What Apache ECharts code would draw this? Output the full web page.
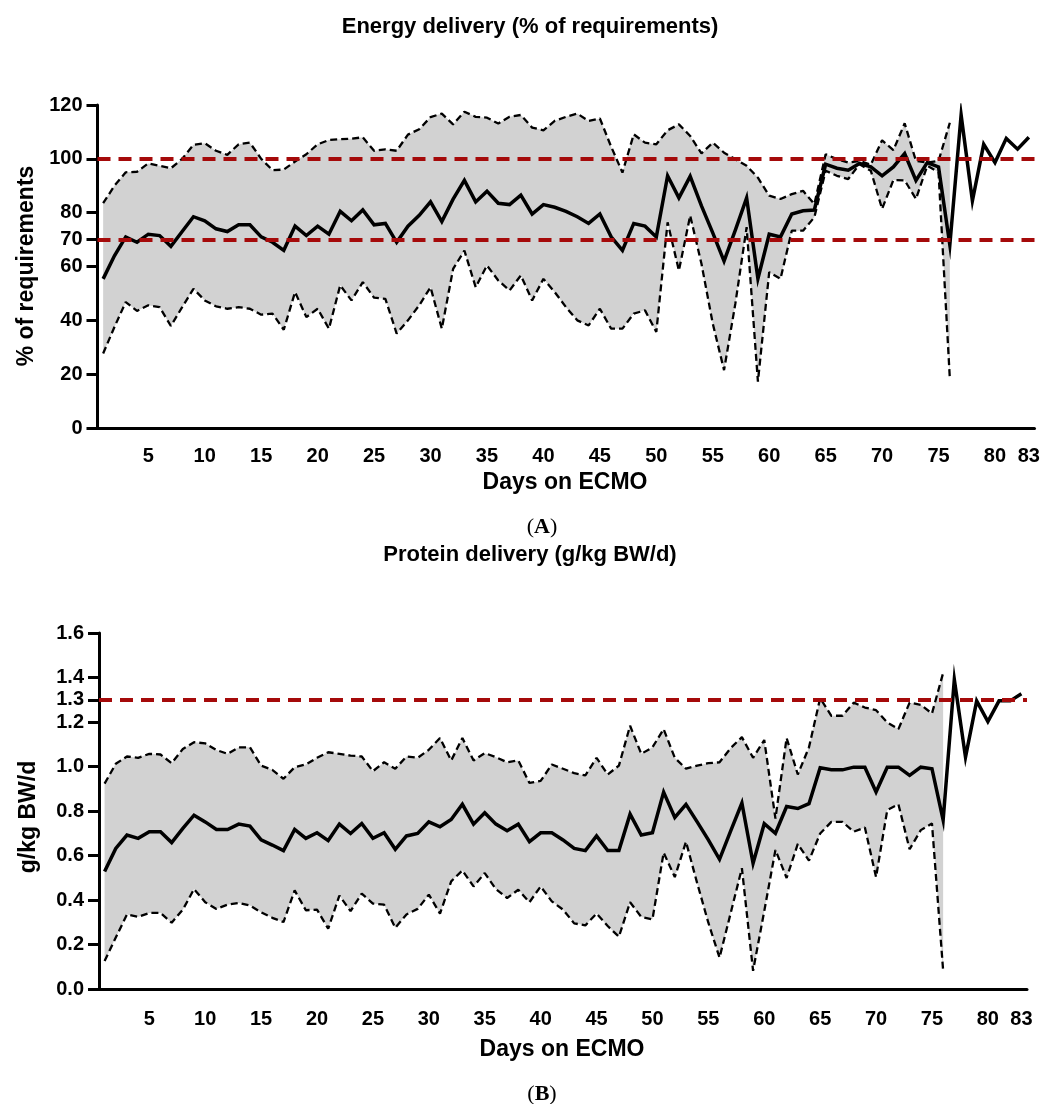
<!DOCTYPE html>
<html>
<head>
<meta charset="utf-8">
<script src="https://cdn.jsdelivr.net/npm/echarts@6/dist/echarts.min.js"></script>
<style>
  html, body { margin: 0; padding: 0; background: #fff; }
  #chart { width: 1053px; height: 1104px; }
</style>
</head>
<body>
<div id="chart"></div>
<script>
// days on ECMO
const days = [];
for (let d = 1; d <= 83; d++) days.push(String(d));
const shownDays = [5, 10, 15, 20, 25, 30, 35, 40, 45, 50, 55, 60, 65, 70, 75, 80, 83];

// (A) energy delivery, % of requirements
const energyMean = [55.4, 64, 71, 69, 72, 71.5, 67.5, 73, 78.5, 77,
  74, 73, 75.5, 75.5, 71, 69, 66, 75, 71.5, 75,
  72, 80.5, 77, 81, 75.5, 76, 69, 75, 79, 84,
  76.7, 85, 92, 84, 88, 83.5, 83, 86.5, 79.5, 83,
  82, 80.5, 78.5, 76, 79.5, 71, 66, 76, 75, 71,
  93.7, 85.5, 93.5, 82.5, 72.5, 62, 73.5, 85.5, 55.5, 72,
  71, 79.5, 80.7, 81, 98, 96.5, 95.8, 98.3, 97, 93.7,
  97, 102, 92, 98.6, 97, 68, 116.3, 84.4, 105.4, 98.6,
  107.6, 103.6, 108];
const energyUpper = [83.5, 90, 95, 95.2, 98.3, 97.4, 96.5, 100, 105.2, 105.8,
  103, 101.5, 105.4, 106, 100, 95.8, 96, 99, 101.7, 105.4,
  107, 107.3, 107.5, 108, 103, 103.5, 103, 109, 111, 115.5,
  116.8, 112.8, 117.5, 115.6, 115.3, 113.1, 115.6, 116.3, 111.6, 110.6,
  114.1, 115.6, 116.8, 114.1, 115, 104.5, 94.9, 109.1, 106, 105.4,
  110.6, 112.8, 108.5, 102, 106, 102.3, 99.9, 97.4, 93, 86.3,
  85.1, 86.9, 88.1, 83.2, 101.7, 99.9, 98.6, 99.2, 97.8, 106.9,
  103.2, 113.2, 99.2, 98.6, 99.2, 113.4];
const energyLower = [27.7, 37.5, 46.8, 43.5, 45.6, 44.9, 37.9, 44.9, 51.7, 47.4,
  45.2, 44.3, 44.9, 44.3, 42.1, 42.5, 36.5, 50.5, 41.2, 44.3,
  36.9, 53, 47.4, 54.2, 48.4, 48, 35.1, 40, 45.6, 52.3,
  36.9, 59.1, 65.9, 52.3, 60.4, 54.8, 51.1, 56.7, 47.4, 55.4,
  50.5, 44.9, 40, 38.1, 44.3, 36.9, 36.9, 42.5, 43.7, 35.7,
  76.4, 58.5, 78.9, 61, 38.8, 21.5, 46.2, 74.6, 17.2, 57.9,
  55.4, 73.3, 73.3, 78.3, 95.6, 93.7, 92.5, 98, 95.6, 81.4,
  92.1, 92, 85.1, 97.4, 95, 18.4];
const energyTicks = [0, 20, 40, 60, 70, 80, 100, 120];
const energyTargets = [100, 70];

// (B) protein delivery, g/kg BW/d
const proteinMean = [0.528, 0.632, 0.692, 0.677, 0.707, 0.707, 0.658, 0.722, 0.781, 0.751,
  0.717, 0.717, 0.741, 0.732, 0.670, 0.647, 0.622, 0.717, 0.677, 0.702,
  0.667, 0.741, 0.699, 0.744, 0.677, 0.702, 0.628, 0.688, 0.699, 0.751,
  0.729, 0.762, 0.830, 0.741, 0.792, 0.741, 0.711, 0.741, 0.662, 0.702,
  0.702, 0.670, 0.632, 0.622, 0.688, 0.622, 0.622, 0.786, 0.692, 0.702,
  0.885, 0.771, 0.830, 0.751, 0.670, 0.583, 0.711, 0.836, 0.565, 0.743,
  0.700, 0.820, 0.811, 0.833, 0.994, 0.985, 0.985, 0.997, 0.997, 0.885,
  0.997, 0.997, 0.960, 0.997, 0.990, 0.759, 1.391, 1.042, 1.295, 1.202,
  1.295, 1.295, 1.327];
const proteinUpper = [0.923, 1.012, 1.045, 1.039, 1.057, 1.054, 1.015, 1.079, 1.109, 1.104,
  1.074, 1.057, 1.086, 1.086, 1.004, 0.985, 0.945, 0.997, 1.009, 1.039,
  1.064, 1.057, 1.049, 1.045, 0.979, 1.019, 0.990, 1.045, 1.039, 1.075,
  1.128, 1.027, 1.128, 1.027, 1.060, 1.042, 1.019, 1.027, 0.926, 0.935,
  1.009, 0.990, 0.970, 0.960, 1.039, 0.964, 1.004, 1.183, 1.057, 1.086,
  1.168, 1.039, 0.990, 1.004, 1.015, 1.019, 1.083, 1.132, 1.039, 1.119,
  0.766, 1.128, 0.964, 1.086, 1.307, 1.228, 1.228, 1.287, 1.265, 1.253,
  1.198, 1.168, 1.287, 1.277, 1.238, 1.421];
const proteinLower = [0.126, 0.231, 0.335, 0.324, 0.342, 0.342, 0.298, 0.357, 0.449, 0.390,
  0.360, 0.379, 0.387, 0.375, 0.345, 0.320, 0.301, 0.443, 0.354, 0.357,
  0.271, 0.420, 0.350, 0.429, 0.384, 0.379, 0.275, 0.335, 0.360, 0.424,
  0.339, 0.484, 0.533, 0.461, 0.521, 0.449, 0.409, 0.446, 0.390, 0.461,
  0.394, 0.357, 0.295, 0.286, 0.339, 0.283, 0.235, 0.390, 0.324, 0.313,
  0.613, 0.503, 0.662, 0.476, 0.298, 0.141, 0.342, 0.543, 0.082, 0.350,
  0.625, 0.499, 0.652, 0.577, 0.699, 0.751, 0.751, 0.707, 0.726, 0.503,
  0.804, 0.830, 0.628, 0.714, 0.744, 0.082];
const proteinTicks = [0, 0.2, 0.4, 0.6, 0.8, 1.0, 1.2, 1.3, 1.4, 1.6];
const proteinTargets = [1.3];

const FONT = '"Liberation Sans", Arial, Helvetica, sans-serif';
const SERIF = '"Liberation Serif", "Times New Roman", serif';
const RED = '#a50a0a';
const BAND = '#d2d2d2';

const chart = echarts.init(document.getElementById('chart'));

function pad(arr) {
  // band only exists for the first days, rest stays empty
  return days.map((d, i) => (i < arr.length ? arr[i] : null));
}
function diff(up, lo) {
  return days.map((d, i) => (i < up.length ? +(up[i] - lo[i]).toFixed(3) : null));
}

function xAxisFor(gridIndex, margin) {
  const show = (i) => shownDays.indexOf(i + 1) >= 0;
  return {
    type: 'category',
    gridIndex: gridIndex,
    data: days,
    boundaryGap: true,
    axisLine: { lineStyle: { color: '#000', width: 3 } },
    axisTick: { alignWithLabel: true, length: 12, interval: show, lineStyle: { color: '#000', width: 3 } },
    axisLabel: {
      interval: show, margin: margin, color: '#000',
      fontFamily: FONT, fontWeight: 'bold', fontSize: 20
    },
    splitLine: { show: false }
  };
}

function yAxisFor(gridIndex, max, ticks, fmt) {
  return {
    type: 'value',
    gridIndex: gridIndex,
    min: 0,
    max: max,
    axisLine: { show: true, lineStyle: { color: '#000', width: 3 } },
    axisTick: { show: true, length: 11, customValues: ticks, lineStyle: { color: '#000', width: 3 } },
    axisLabel: {
      customValues: ticks, margin: 15, color: '#000', formatter: fmt,
      fontFamily: FONT, fontWeight: 'bold', fontSize: 20
    },
    splitLine: { show: false }
  };
}

function seriesFor(idx, mean, upper, lower, targets) {
  const stackName = 'band' + idx;
  return [
    {
      type: 'line', xAxisIndex: idx, yAxisIndex: idx, stack: stackName,
      data: pad(lower), symbol: 'none', silent: true, z: 1,
      lineStyle: { opacity: 0 }
    },
    {
      type: 'line', xAxisIndex: idx, yAxisIndex: idx, stack: stackName,
      data: diff(upper, lower), symbol: 'none', silent: true, z: 1,
      lineStyle: { opacity: 0 },
      areaStyle: { color: BAND, opacity: 1 }
    },
    {
      type: 'line', xAxisIndex: idx, yAxisIndex: idx,
      data: [], symbol: 'none', z: 2,
      markLine: {
        silent: true, symbol: 'none', animation: false,
        label: { show: false },
        lineStyle: { color: RED, width: 4, type: [13, 8] },
        data: targets.map(t => ({ yAxis: t }))
      }
    },
    {
      type: 'line', xAxisIndex: idx, yAxisIndex: idx,
      data: pad(upper), symbol: 'none', z: 3,
      lineStyle: { color: '#000', width: 2.3, type: [7, 4] }
    },
    {
      type: 'line', xAxisIndex: idx, yAxisIndex: idx,
      data: pad(lower), symbol: 'none', z: 3,
      lineStyle: { color: '#000', width: 2.3, type: [7, 4] }
    },
    {
      type: 'line', xAxisIndex: idx, yAxisIndex: idx,
      data: mean, symbol: 'none', z: 4,
      lineStyle: { color: '#000', width: 3.5, join: 'miter' }
    }
  ];
}

function label(text, x, y, size, rotate) {
  return {
    type: 'text', x: x, y: y, rotation: rotate ? Math.PI / 2 : 0, z: 10,
    style: {
      text: text, fill: '#000', font: 'bold ' + size + 'px ' + FONT,
      textAlign: 'center', textVerticalAlign: 'middle'
    }
  };
}

function panelTag(letter, x, y) {
  return {
    type: 'text', x: x, y: y, z: 10,
    style: {
      text: '{p|(}{b|' + letter + '}{p|)}',
      textAlign: 'center', textVerticalAlign: 'middle',
      rich: {
        p: { fontFamily: SERIF, fontSize: 22, fill: '#000' },
        b: { fontFamily: SERIF, fontSize: 22, fontWeight: 'bold', fill: '#000' }
      }
    }
  };
}

const option = {
  animation: false,
  backgroundColor: '#fff',
  grid: [
    { left: 97.5, right: 18.5, top: 105, bottom: 676 },
    { left: 99, right: 26, top: 633, bottom: 115 }
  ],
  xAxis: [xAxisFor(0, 18), xAxisFor(1, 20)],
  yAxis: [
    yAxisFor(0, 120, energyTicks, v => String(v)),
    yAxisFor(1, 1.6, proteinTicks, v => v.toFixed(1))
  ],
  graphic: [
    label('Energy delivery (% of requirements)', 530, 27, 22),
    label('Days on ECMO', 565, 483, 23),
    label('% of requirements', 27, 266, 23, true),
    panelTag('A', 542, 527),
    label('Protein delivery (g/kg BW/d)', 530, 555, 22),
    label('Days on ECMO', 562, 1050, 23),
    label('g/kg BW/d', 29, 817, 23, true),
    panelTag('B', 542, 1094)
  ],
  series: [].concat(
    seriesFor(0, energyMean, energyUpper, energyLower, energyTargets),
    seriesFor(1, proteinMean, proteinUpper, proteinLower, proteinTargets)
  )
};

chart.setOption(option);

window.addEventListener('resize', () => {
  if (chart) {
    chart.resize();
  }
});
</script>
</body>
</html>
